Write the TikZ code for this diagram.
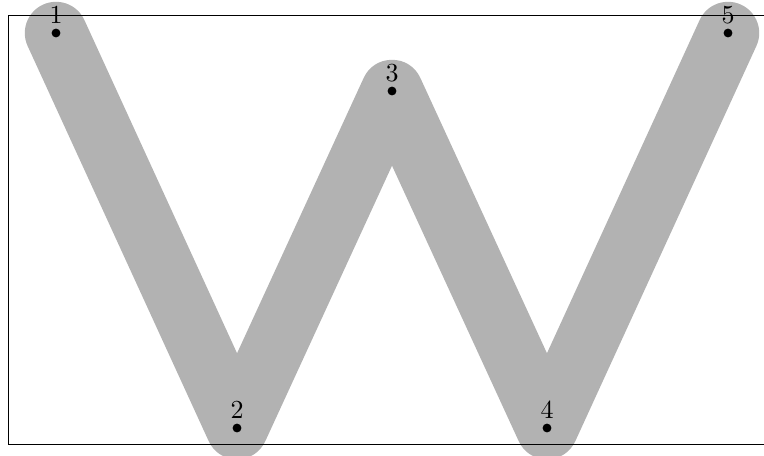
\documentclass[tikz,border=0pt]{standalone}
\usetikzlibrary{positioning}
\begin{document}
\begin{tikzpicture}[x=0.3846pt,y=-0.3846pt,
  wpath/.style={draw=black!30,line width=24pt,line cap=round,line join=round},
  pdot/.style={circle,fill=black,inner sep=0pt,minimum size=3.4pt},
  plabel/.style={inner sep=0pt,font=\normalsize},
  frame/.style={draw=black,line width=0.35pt}]
\useasboundingbox (0,0) rectangle (764,455);
\clip (0,0) rectangle (764,455);
\coordinate (c1) at (56,33);
\coordinate (c2) at (237,428);
\coordinate (c3) at (392,91);
\coordinate (c4) at (547,428);
\coordinate (c5) at (728,33);
\draw[wpath] (c1) -- (c2) -- (c3) -- (c4) -- (c5);
\draw[frame] (8.5,15.7) rectangle (780,444);
\node[pdot] (p1) at (c1) {};
\node[pdot] (p2) at (c2) {};
\node[pdot] (p3) at (c3) {};
\node[pdot] (p4) at (c4) {};
\node[pdot] (p5) at (c5) {};
\node[plabel,above=1.4pt of p1] (l1) {1};
\node[plabel,above=1.4pt of p2] (l2) {2};
\node[plabel,above=1.4pt of p3] (l3) {3};
\node[plabel,above=1.4pt of p4] (l4) {4};
\node[plabel,above=1.4pt of p5] (l5) {5};
\end{tikzpicture}
\end{document}
